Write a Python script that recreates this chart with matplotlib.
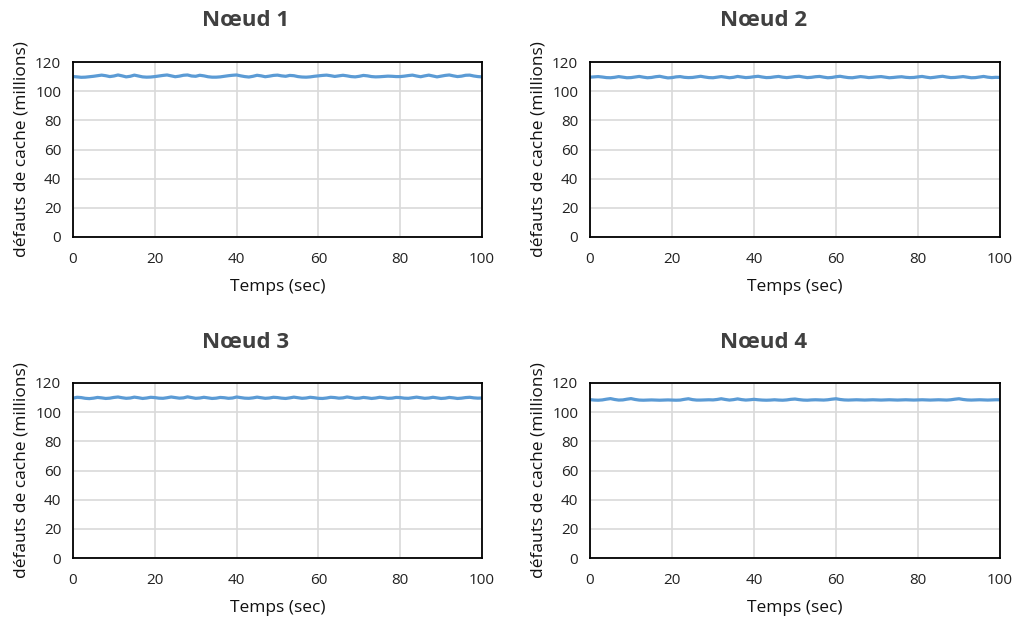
import matplotlib
matplotlib.use("Agg")
import matplotlib.pyplot as plt
import numpy as np

plt.rcParams['font.family'] = ['Open Sans', 'DejaVu Sans']

titles = ["Nœud 1", "Nœud 2", "Nœud 3", "Nœud 4"]
xlabel = "Temps (sec)"
ylabel = "défauts de cache (millions)"
temps = list(range(0, 101))

noeud1 = [110.0, 109.8, 109.5, 109.6, 109.9, 110.2, 110.6, 111.0, 110.6, 110.0,
          110.4, 111.1, 110.5, 109.8, 110.2, 111.0, 110.4, 109.8, 109.6, 109.7,
          110.0, 110.4, 110.8, 111.1, 110.5, 109.9, 110.3, 110.9, 111.1, 110.4,
          110.2, 110.9, 110.5, 109.9, 109.6, 109.6, 109.8, 110.2, 110.6, 110.9,
          111.1, 110.5, 110.0, 109.7, 110.2, 110.9, 110.5, 109.9, 110.3, 110.8,
          111.0, 110.5, 110.2, 110.8, 110.6, 110.0, 109.7, 109.6, 109.8, 110.2,
          110.5, 110.8, 111.0, 110.6, 110.1, 110.5, 110.9, 110.5, 110.0, 109.8,
          110.2, 110.8, 110.5, 110.0, 109.8, 109.9, 110.1, 110.3, 110.2, 110.0,
          110.0, 110.3, 110.7, 111.0, 110.4, 109.9, 110.5, 111.0, 110.4, 109.8,
          110.3, 110.8, 111.1, 110.5, 110.0, 110.3, 110.9, 111.0, 110.4, 110.0,
          109.8]
noeud2 = [109.6, 109.8, 110.0, 109.7, 109.3, 109.2, 109.5, 110.0, 109.6, 109.2,
          109.3, 109.7, 110.1, 109.6, 109.2, 109.4, 109.9, 110.2, 109.6, 109.1,
          109.3, 109.8, 110.0, 109.5, 109.3, 109.4, 109.8, 110.2, 109.7, 109.3,
          109.2, 109.6, 110.0, 109.6, 109.2, 109.5, 110.1, 109.7, 109.3, 109.5,
          109.9, 110.2, 109.7, 109.3, 109.4, 109.8, 110.1, 109.6, 109.3, 109.6,
          110.0, 110.2, 109.7, 109.3, 109.5, 109.9, 110.1, 109.6, 109.2, 109.4,
          109.9, 110.2, 109.7, 109.3, 109.2, 109.6, 110.0, 109.7, 109.3, 109.5,
          109.8, 110.0, 109.6, 109.2, 109.4, 109.7, 109.9, 109.5, 109.3, 109.4,
          109.8, 110.1, 109.6, 109.2, 109.5, 109.9, 110.2, 109.7, 109.3, 109.4,
          109.7, 110.0, 109.6, 109.2, 109.3, 109.7, 110.1, 109.6, 109.3, 109.5,
          109.4]
noeud3 = [109.6, 110.2, 110.0, 109.5, 109.3, 109.6, 110.1, 109.8, 109.4, 109.6,
          110.1, 110.4, 109.9, 109.5, 109.7, 110.3, 109.9, 109.4, 109.7, 110.2,
          110.0, 109.6, 109.5, 109.9, 110.4, 110.0, 109.6, 109.8, 110.5, 110.0,
          109.5, 109.7, 110.2, 109.8, 109.4, 109.6, 110.1, 109.9, 109.5, 109.7,
          110.4, 110.0, 109.6, 109.5, 109.8, 110.3, 109.9, 109.5, 109.7, 110.2,
          110.0, 109.6, 109.4, 109.8, 110.3, 109.9, 109.5, 109.7, 110.2, 109.9,
          109.5, 109.4, 109.7, 110.2, 110.0, 109.6, 109.8, 110.4, 110.0, 109.5,
          109.6, 110.1, 109.8, 109.4, 109.7, 110.2, 109.9, 109.5, 109.6, 110.1,
          110.0, 109.6, 109.5, 109.9, 110.3, 109.9, 109.5, 109.7, 110.2, 109.8,
          109.4, 109.6, 110.1, 109.8, 109.4, 109.6, 110.0, 110.2, 109.8, 109.6,
          109.7]
noeud4 = [108.6, 108.3, 108.2, 108.4, 108.9, 109.3, 108.7, 108.3, 108.4, 108.9,
          109.3, 108.7, 108.3, 108.2, 108.3, 108.4, 108.3, 108.2, 108.3, 108.4,
          108.3, 108.2, 108.3, 108.8, 109.2, 108.6, 108.3, 108.3, 108.4, 108.5,
          108.4, 108.7, 109.2, 108.7, 108.3, 108.6, 109.1, 108.6, 108.3, 108.5,
          108.8, 108.5, 108.3, 108.2, 108.3, 108.5, 108.3, 108.2, 108.4, 108.8,
          109.0, 108.6, 108.3, 108.2, 108.4, 108.5, 108.4, 108.3, 108.5, 108.9,
          109.2, 108.7, 108.4, 108.3, 108.4, 108.5, 108.4, 108.3, 108.4, 108.5,
          108.4, 108.3, 108.4, 108.5, 108.4, 108.3, 108.4, 108.5, 108.4, 108.3,
          108.4, 108.5, 108.4, 108.3, 108.4, 108.5, 108.4, 108.3, 108.5, 108.9,
          109.2, 108.7, 108.4, 108.3, 108.4, 108.5, 108.4, 108.3, 108.4, 108.5,
          108.5]
series = [noeud1, noeud2, noeud3, noeud4]

W, H = 1017, 619
fig = plt.figure(figsize=(W / 100, H / 100), dpi=100)

# axes boxes in pixels: (left, top, right, bottom)
boxes = [(73, 62, 482, 237), (590, 62, 1000, 237),
         (73, 383, 482, 558), (590, 383, 1000, 558)]
# title centre in pixels (x, y): centred over the whole chart area
title_pos = [(246, 20), (764, 20), (246, 343), (764, 343)]

for (l, t, r, b), (tx, ty), title, ys in zip(boxes, title_pos, titles, series):
    ax = fig.add_axes([l / W, 1 - b / H, (r - l) / W, (b - t) / H])
    ax.plot(temps, ys, color='#5B9BD5', linewidth=2.3, solid_capstyle='round')
    ax.set_xlim(0, 100)
    ax.set_ylim(0, 120)
    ax.set_xticks(range(0, 101, 20))
    ax.set_yticks(range(0, 121, 20))
    ax.grid(True, color='#D9D9D9', linewidth=1.2)
    ax.set_axisbelow(True)
    for s in ax.spines.values():
        s.set_color('black')
        s.set_linewidth(1.3)
    ax.tick_params(axis='x', length=0, labelsize=11, colors='#222222', pad=11)
    ax.tick_params(axis='y', length=0, labelsize=11, colors='#222222', pad=8.5)
    for lab in ax.get_xticklabels() + ax.get_yticklabels():
        lab.set_fontweight('medium')
    fig.text(tx / W, 1 - ty / H, title, fontsize=16, fontweight='bold',
             color='#404040', ha='center', va='center')
    ax.set_xlabel(xlabel, fontsize=12.5, fontweight='medium', color='#111111', labelpad=8.5)
    ax.set_ylabel(ylabel, fontsize=12.5, fontweight='medium', color='#111111', labelpad=4)

fig.savefig('out.png', dpi=100, facecolor='white')
